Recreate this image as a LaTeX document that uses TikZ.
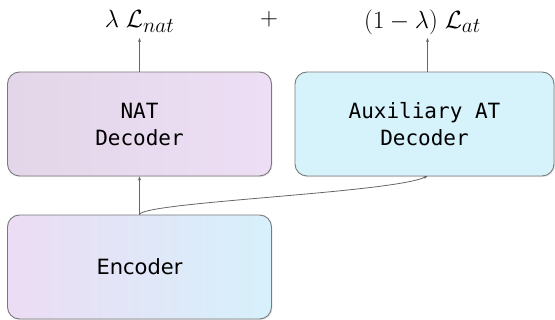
\documentclass[tikz,border=0pt]{standalone}
\usepackage{fontspec}
\usepackage{graphicx}
\setmonofont{DejaVu Sans Mono}
\setsansfont{DejaVu Sans}
\usetikzlibrary{arrows.meta,shadows}
\definecolor{edgegray}{HTML}{7A7A7A}
\definecolor{linegray}{HTML}{666666}
\definecolor{natA}{HTML}{E2D6E8}
\definecolor{natB}{HTML}{EDDEF5}
\definecolor{auxC}{HTML}{D6F3FC}
\definecolor{encA}{HTML}{ECDCF4}
\definecolor{encB}{HTML}{D6F1FB}
\newcommand{\subsc}[1]{\scalebox{0.85}{$#1$}}
\tikzset{
  block/.style={draw=edgegray, line width=0.9pt, rounded corners=12pt,
    minimum width=264pt, minimum height=104pt, inner sep=0pt, align=center,
    drop shadow={opacity=0.18, shadow xshift=1pt, shadow yshift=-1.2pt}},
  monotext/.style={font=\fontsize{21}{27}\selectfont\ttfamily},
  sanstext/.style={font=\fontsize{21}{27}\selectfont\sffamily},
  losstext/.style={font=\fontsize{25.5}{29}\selectfont, inner sep=0pt},
  conn/.style={draw=linegray, line width=0.8pt, -{Stealth[length=4pt,width=3pt]}},
}
\begin{document}
\begin{tikzpicture}[x=1pt,y=-1pt]
\useasboundingbox (0,0) rectangle (555,320);
\node[block, monotext, shading angle=135, left color=natA, right color=natB] (nat) at (139.5,124) {NAT\\Decoder};
\node[block, monotext, fill=auxC, minimum width=259pt] (aux) at (424.5,124) {Auxiliary AT\\Decoder};
\node[block, sanstext, left color=encA, right color=encB] (enc) at (139.5,267) {Encoder};
\node[losstext, anchor=base] (lnat) at (139.5,28) {$\lambda\;\mathcal{L}_{\subsc{nat}}$};
\node[losstext] (plus) at (269,19.5) {$+$};
\node[losstext, anchor=base] (lat) at (422.5,28.5) {$(1-\lambda)\;\mathcal{L}_{\subsc{at}}$};
\coordinate (natTip) at (139.5,38);
\coordinate (atTip) at (427.5,38);
\coordinate (auxIn) at (427.5,176);
\draw[conn] (nat.north) -- (natTip);
\draw[conn] (auxIn |- aux.north) -- (atTip);
\draw[conn] (enc.north) -- (nat.south);
\draw[conn] (enc.north) .. controls (143,202) and (392,193) .. (auxIn);
\end{tikzpicture}
\end{document}
